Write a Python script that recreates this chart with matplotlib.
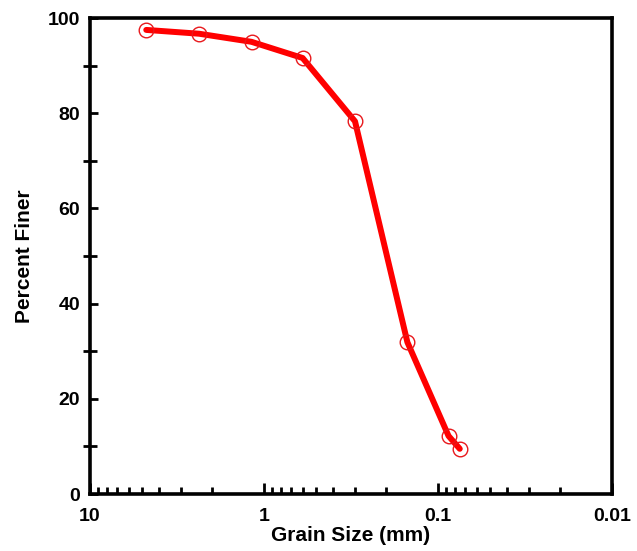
import matplotlib
matplotlib.use("Agg")
import matplotlib.pyplot as plt
from matplotlib.ticker import FixedLocator, LogLocator, NullFormatter

# Sieve analysis: grain size (mm) vs percent finer
grain_size = [4.75, 2.36, 1.18, 0.6, 0.3, 0.15, 0.087, 0.075]
percent_finer = [97.5, 96.7, 95.0, 91.6, 78.3, 31.9, 12.2, 9.5]

x_ticks = [10, 1, 0.1, 0.01]
x_tick_labels = ["10", "1", "0.1", "0.01"]
y_ticks = [0, 20, 40, 60, 80, 100]

plt.rcParams['font.family'] = ['Liberation Sans', 'DejaVu Sans']
plt.rcParams['font.weight'] = 'bold'

fig = plt.figure(figsize=(6.37, 5.51), dpi=100)
ax = fig.add_axes([0.1413, 0.1034, 0.8195, 0.8639])

ax.plot(grain_size, percent_finer, color='#ff0000', lw=4.3, solid_joinstyle='round',
        solid_capstyle='round', zorder=2)
ax.plot(grain_size, percent_finer, linestyle='none', marker='o', markersize=10.5,
        markerfacecolor='none', markeredgecolor='#e8181c', markeredgewidth=1.0, zorder=3)

ax.set_xscale('log')
ax.set_xlim(10, 0.01)
ax.set_ylim(0, 100)

ax.xaxis.set_major_locator(FixedLocator(x_ticks))
ax.set_xticklabels(x_tick_labels)
ax.xaxis.set_minor_locator(LogLocator(base=10, subs=range(2, 10)))
ax.xaxis.set_minor_formatter(NullFormatter())

ax.set_yticks(y_ticks)
ax.set_yticks([10, 30, 50, 70, 90], minor=True)

for s in ax.spines.values():
    s.set_linewidth(2.6)

ax.tick_params(axis='x', which='major', direction='in', length=8, width=2,
               labelsize=14, pad=10, top=False)
ax.tick_params(axis='x', which='minor', direction='in', length=5, width=2, top=False)
ax.tick_params(axis='y', which='major', direction='in', length=6, width=2,
               labelsize=14, pad=7, right=False)
ax.tick_params(axis='y', which='minor', direction='inout', length=10, width=2, right=False)

for lab in ax.get_xticklabels() + ax.get_yticklabels():
    lab.set_fontweight('bold')

ax.set_xlabel('Grain Size (mm)', fontsize=15, fontweight='bold', labelpad=1)
ax.set_ylabel('Percent Finer', fontsize=15, fontweight='bold', labelpad=10)

fig.savefig('out.png', dpi=100)
